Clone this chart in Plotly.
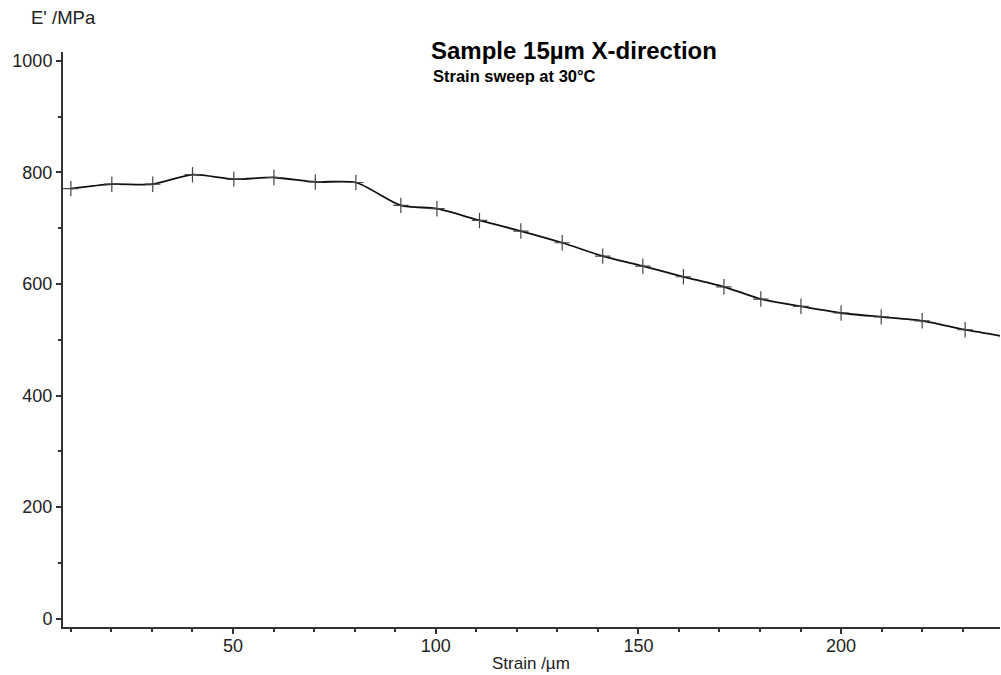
import plotly.graph_objects as go

strain = [10.0, 20.1, 30.2, 40.0, 50.2, 60.1, 70.3, 80.3, 91.4, 100.3, 110.8, 121.0,
          131.2, 141.2, 151.1, 161.1, 171.1, 180.2, 190.1, 200.0, 209.9, 220.0, 230.6, 240.0]
modulus = [771, 779, 779, 796, 788, 791, 783, 782, 741, 735, 714, 695,
           674, 650, 632, 613, 595, 573, 560, 548, 541, 534, 518, 506]

title_text = "Sample 15µm X-direction"
subtitle_text = "Strain sweep at 30°C"
x_title = "Strain /µm"
y_title = "E' /MPa"

FONT = "Liberation Sans, Arial, Helvetica, sans-serif"

fig = go.Figure()
fig.add_trace(go.Scatter(
    x=strain, y=modulus, mode="lines",
    line=dict(color="#111111", width=1.8, shape="spline", smoothing=0.7),
    showlegend=False, hoverinfo="skip"))
fig.add_trace(go.Scatter(
    x=strain[:-1], y=modulus[:-1], mode="markers",
    marker=dict(symbol="cross-thin", size=11, line=dict(color="#444444", width=1.2)),
    showlegend=False))

axis_common = dict(
    showline=True, linecolor="#333333", linewidth=2, mirror=False,
    showgrid=False, zeroline=False, ticks="outside", tickcolor="#333333",
    tickwidth=1.5, ticklen=5, tickfont=dict(family=FONT, size=18, color="#222222"),
)

fig.update_layout(
    width=1001, height=675,
    margin=dict(l=63, r=1, t=52, b=48),
    paper_bgcolor="white", plot_bgcolor="white",
    xaxis=dict(range=[8.06, 239.2], tickvals=[50, 100, 150, 200], ticklabelstandoff=-4,
               minor=dict(dtick=10, tick0=0, ticks="outside", ticklen=3, tickcolor="#333333", tickwidth=1.5),
               **axis_common),
    yaxis=dict(range=[-15, 1016], tickvals=[0, 200, 400, 600, 800, 1000],
               minor=dict(dtick=100, tick0=0, ticks="outside", ticklen=3, tickcolor="#333333", tickwidth=1.5),
               **axis_common),
    annotations=[
        dict(text="<b>" + title_text + "</b>", xref="paper", yref="paper",
             x=(429 - 63) / 937, y=(627 - 50) / 575, xanchor="left", yanchor="middle",
             showarrow=False, font=dict(family=FONT, size=24, color="#000000")),
        dict(text="<b>" + subtitle_text + "</b>", xref="paper", yref="paper",
             x=(431 - 63) / 937, y=(627 - 76) / 575, xanchor="left", yanchor="middle",
             showarrow=False, font=dict(family=FONT, size=16.5, color="#000000")),
        dict(text=y_title, xref="paper", yref="paper",
             x=(29 - 63) / 937, y=(627 - 18) / 575, xanchor="left", yanchor="middle",
             showarrow=False, font=dict(family=FONT, size=18.5, color="#222222")),
        dict(text=x_title, xref="paper", yref="paper",
             x=(531 - 63) / 937, y=(627 - 663) / 575, xanchor="center", yanchor="middle",
             showarrow=False, font=dict(family=FONT, size=17, color="#222222")),
    ],
)

fig.write_html("out.html")
